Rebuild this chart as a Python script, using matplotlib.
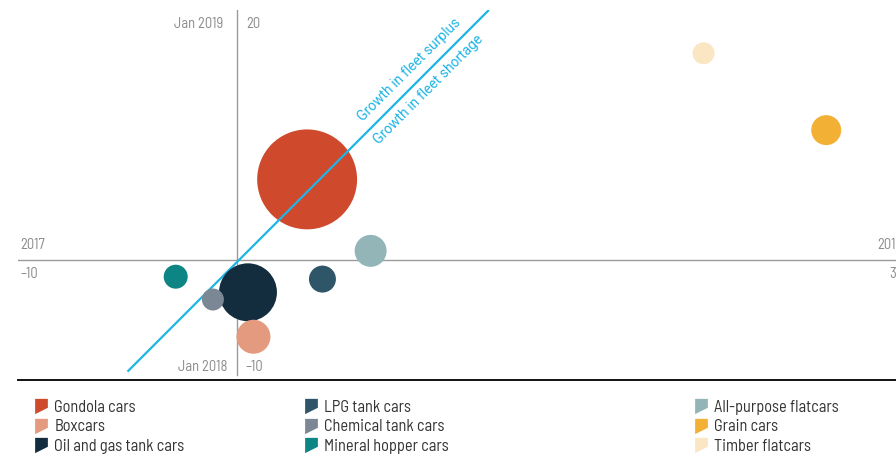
import matplotlib.pyplot as plt
from matplotlib.path import Path
from matplotlib.lines import Line2D

# bubble data (x, y in %, size ~ fleet)
cars = ["Gondola cars", "Boxcars", "Oil and gas tank cars",
        "LPG tank cars", "Chemical tank cars", "Mineral hopper cars",
        "All-purpose flatcars", "Grain cars", "Timber flatcars"]
x_vals = [3.2, 0.75, 0.5, 3.9, -1.1, -2.8, 6.1, 26.9, 21.3]
y_vals = [6.7, -6.4, -2.7, -1.6, -3.3, -1.4, 0.75, 10.8, 17.2]
sizes = [2500, 289, 841, 182, 121, 144, 256, 225, 121]
colors = ["#cf4a2d", "#e49a7e", "#132d3e", "#2e5568", "#7b8795",
          "#0e8585", "#93b5b8", "#f2b035", "#fbe6c4"]

# balance line
line_x = [-5.0, 11.5]
line_y = [-9.3, 20.8]

narrow = ["Barlow Semi Condensed", "DejaVu Sans"]
grey = "#8a8a8a"
blue = "#1eb4e6"

fig = plt.figure(figsize=(8.96, 4.66), dpi=100)
ax = fig.add_axes([18 / 896, 86 / 466, 898 / 896, 370 / 466])
ax.set_xlim(-10, 31)
ax.set_ylim(-10, 20.8)
ax.set_xticks([])
ax.set_yticks([])
for s in ["top", "left", "right"]:
    ax.spines[s].set_visible(False)
ax.spines["bottom"].set_color("#111111")
ax.spines["bottom"].set_linewidth(1.4)

ax.axhline(0, color="#9a9a9a", lw=1, zorder=1)
ax.plot([0, 0], [-9.6, 20.8], color="#9a9a9a", lw=1, zorder=1)

# gondola first, then line, then the rest
ax.scatter(x_vals[0], y_vals[0], s=sizes[0] * 2.07, color=colors[0],
           edgecolors="none", zorder=2)
ax.plot(line_x, line_y, color=blue, lw=1.6, zorder=3, solid_capstyle="butt")
order = [2, 1, 3, 4, 5, 6, 7, 8]
for i in order:
    ax.scatter(x_vals[i], y_vals[i], s=sizes[i] * 2.07, color=colors[i],
               edgecolors="none", zorder=4)

ax.annotate("Growth in fleet surplus", xy=(8.3, 15.0), xytext=(-7, 7),
            textcoords="offset points", rotation=45, ha="center", va="center",
            rotation_mode="anchor", color=blue, fontsize=10, family="Roboto")
ax.annotate("Growth in fleet shortage", xy=(8.3, 15.0), xytext=(7, -7),
            textcoords="offset points", rotation=45, ha="center", va="center",
            rotation_mode="anchor", color=blue, fontsize=10, family="Roboto")

tk = dict(color=grey, fontsize=10.5, family=narrow, va="center")
ax.text(-9.9, 1.2, "2017", ha="left", **tk)
ax.text(-9.9, -1.2, "\u201310", ha="left", **tk)
ax.text(30.4, 1.2, "2018", ha="right", **tk)
ax.text(30.4, -1.2, "30", ha="right", **tk)
ax.text(-0.65, 19.6, "Jan 2019", ha="right", **tk)
ax.text(0.4, 19.6, "20", ha="left", **tk)
ax.text(-0.45, -8.9, "Jan 2018", ha="right", **tk)
ax.text(0.4, -8.9, "\u201310", ha="left", **tk)

# flag-like legend marker
flag = Path([(-0.5, 0.6), (0.5, 0.6), (0.5, -0.1), (-0.5, -0.6), (-0.5, 0.6)],
            [Path.MOVETO, Path.LINETO, Path.LINETO, Path.LINETO, Path.CLOSEPOLY])

col_x = [34, 304, 694]
for c in range(3):
    handles = []
    for i in range(c * 3, c * 3 + 3):
        handles.append(Line2D([], [], marker=flag, ls="none", markersize=11,
                              markerfacecolor=colors[i], markeredgecolor="none",
                              label=cars[i]))
    fig.legend(handles=handles, loc="upper left",
               bbox_to_anchor=(col_x[c] / 896, 1 - 400 / 466),
               frameon=False, handlelength=0.8, handletextpad=0.45,
               labelspacing=0.27, borderpad=0, borderaxespad=0,
               prop={"family": narrow, "size": 11.8}, labelcolor="#333333")

fig.savefig("out.png", dpi=100)
